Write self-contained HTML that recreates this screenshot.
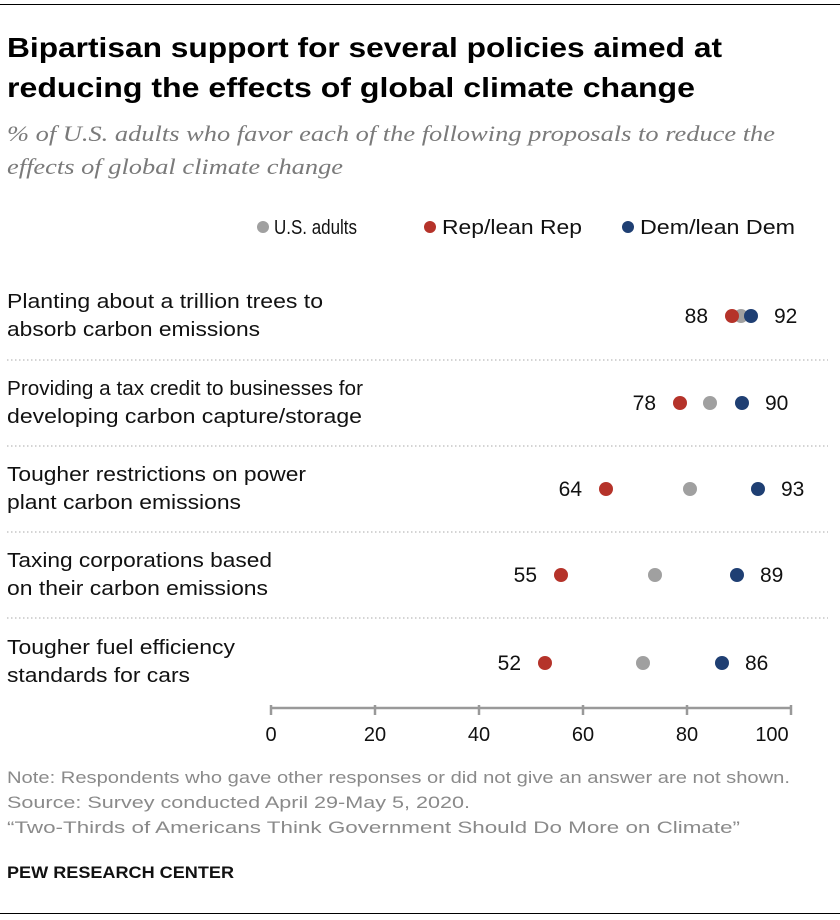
<!DOCTYPE html><html><head><style>
body{margin:0;width:840px;height:920px;background:#fff;font-family:"Liberation Sans",sans-serif;position:relative;overflow:hidden}
svg{position:absolute;left:0;top:0}
</style></head><body>
<svg width="840" height="920" font-family="Liberation Sans, sans-serif">
<rect x="0" y="4" width="840" height="1" fill="#000"/>
<g font-weight="bold" font-size="28" fill="#000" lengthAdjust="spacingAndGlyphs">
<text x="7" y="57" textLength="715" lengthAdjust="spacingAndGlyphs">Bipartisan support for several policies aimed at</text>
<text x="7" y="97" textLength="688" lengthAdjust="spacingAndGlyphs">reducing the effects of global climate change</text>
</g>
<g font-family="Liberation Serif, serif" font-style="italic" font-size="22" fill="#7a7a7a">
<text x="7" y="141" textLength="768" lengthAdjust="spacingAndGlyphs">% of U.S. adults who favor each of the following proposals to reduce the</text>
<text x="7" y="174" textLength="336" lengthAdjust="spacingAndGlyphs">effects of global climate change</text>
</g>
<g font-size="20" fill="#111">
<text x="7" y="308" textLength="316" lengthAdjust="spacingAndGlyphs">Planting about a trillion trees to</text>
<text x="7" y="336" textLength="253" lengthAdjust="spacingAndGlyphs">absorb carbon emissions</text>
<text x="7" y="395" textLength="356" lengthAdjust="spacingAndGlyphs">Providing a tax credit to businesses for</text>
<text x="7" y="423" textLength="355" lengthAdjust="spacingAndGlyphs">developing carbon capture/storage</text>
<text x="7" y="481" textLength="299" lengthAdjust="spacingAndGlyphs">Tougher restrictions on power</text>
<text x="7" y="509" textLength="234" lengthAdjust="spacingAndGlyphs">plant carbon emissions</text>
<text x="7" y="567" textLength="265" lengthAdjust="spacingAndGlyphs">Taxing corporations based</text>
<text x="7" y="595" textLength="261" lengthAdjust="spacingAndGlyphs">on their carbon emissions</text>
<text x="7" y="654" textLength="228" lengthAdjust="spacingAndGlyphs">Tougher fuel efficiency</text>
<text x="7" y="682" textLength="183" lengthAdjust="spacingAndGlyphs">standards for cars</text>
</g>
<g font-size="20" fill="#111">
<circle cx="263" cy="227" r="6" fill="#a0a0a0"/><text x="274" y="234" textLength="83" lengthAdjust="spacingAndGlyphs">U.S. adults</text>
<circle cx="430" cy="227" r="6" fill="#b5332a"/><text x="442" y="234" textLength="140" lengthAdjust="spacingAndGlyphs">Rep/lean Rep</text>
<circle cx="628" cy="227" r="6" fill="#1f3f73"/><text x="640" y="234" textLength="155" lengthAdjust="spacingAndGlyphs">Dem/lean Dem</text>
</g>
<g stroke="#aaa" stroke-width="1" stroke-dasharray="1.5,2.5">
<line x1="7" x2="828" y1="360" y2="360"/><line x1="7" x2="828" y1="446" y2="446"/>
<line x1="7" x2="828" y1="532" y2="532"/><line x1="7" x2="828" y1="618" y2="618"/>
</g>
<g font-size="21" fill="#111">
<circle cx="741" cy="316" r="7" fill="#a0a0a0"/><circle cx="732" cy="316" r="7" fill="#b5332a"/><circle cx="751" cy="316" r="7" fill="#1f3f73"/>
<text x="708" y="323" text-anchor="end">88</text><text x="774" y="323">92</text>
<circle cx="710" cy="403" r="7" fill="#a0a0a0"/><circle cx="680" cy="403" r="7" fill="#b5332a"/><circle cx="742" cy="403" r="7" fill="#1f3f73"/>
<text x="656" y="410" text-anchor="end">78</text><text x="765" y="410">90</text>
<circle cx="690" cy="489" r="7" fill="#a0a0a0"/><circle cx="606" cy="489" r="7" fill="#b5332a"/><circle cx="758" cy="489" r="7" fill="#1f3f73"/>
<text x="582" y="496" text-anchor="end">64</text><text x="781" y="496">93</text>
<circle cx="655" cy="575" r="7" fill="#a0a0a0"/><circle cx="561" cy="575" r="7" fill="#b5332a"/><circle cx="737" cy="575" r="7" fill="#1f3f73"/>
<text x="537" y="582" text-anchor="end">55</text><text x="760" y="582">89</text>
<circle cx="643" cy="663" r="7" fill="#a0a0a0"/><circle cx="545" cy="663" r="7" fill="#b5332a"/><circle cx="722" cy="663" r="7" fill="#1f3f73"/>
<text x="521" y="670" text-anchor="end">52</text><text x="745" y="670">86</text>
</g>
<g stroke="#999" stroke-width="2.5">
<line x1="270" x2="792" y1="708" y2="708"/>
<line x1="271" x2="271" y1="705" y2="715"/><line x1="375" x2="375" y1="705" y2="715"/>
<line x1="479" x2="479" y1="705" y2="715"/><line x1="583" x2="583" y1="705" y2="715"/>
<line x1="687" x2="687" y1="705" y2="715"/><line x1="791" x2="791" y1="705" y2="715"/>
</g>
<g font-size="20" fill="#111" text-anchor="middle">
<text x="271" y="741">0</text><text x="375" y="741">20</text><text x="479" y="741">40</text>
<text x="583" y="741">60</text><text x="687" y="741">80</text><text x="772" y="741">100</text>
</g>
<g font-size="17" fill="#8a8a8a">
<text x="7" y="783" textLength="783" lengthAdjust="spacingAndGlyphs">Note: Respondents who gave other responses or did not give an answer are not shown.</text>
<text x="7" y="808" textLength="463" lengthAdjust="spacingAndGlyphs">Source: Survey conducted April 29-May 5, 2020.</text>
<text x="7" y="833" textLength="733" lengthAdjust="spacingAndGlyphs">“Two-Thirds of Americans Think Government Should Do More on Climate”</text>
</g>
<text x="7" y="878" font-weight="bold" font-size="17" fill="#111" textLength="227" lengthAdjust="spacingAndGlyphs">PEW RESEARCH CENTER</text>
<rect x="0" y="913" width="840" height="1" fill="#000"/>
</svg>
</body></html>
